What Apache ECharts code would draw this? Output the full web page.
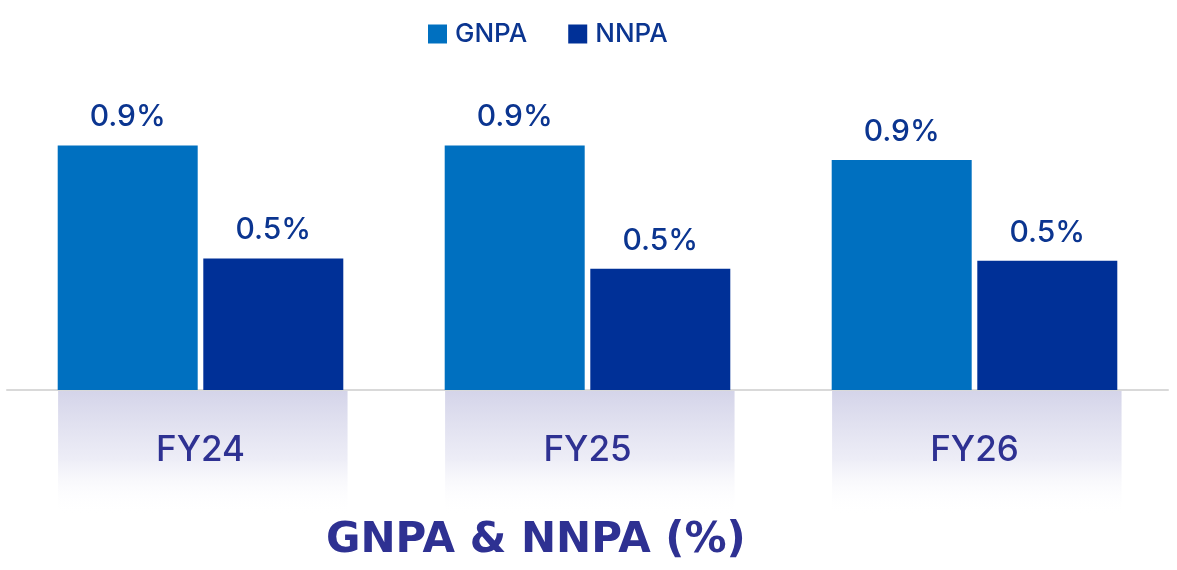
<!DOCTYPE html>
<html>
<head>
<meta charset="utf-8">
<script src="https://cdn.jsdelivr.net/npm/echarts@6/dist/echarts.min.js"></script>
<style>
  html, body { margin: 0; padding: 0; background: #ffffff; }
  #chart { width: 1177px; height: 570px; }
</style>
</head>
<body>
<div id="chart"></div>
<script>
// Fiscal years on the category axis
const categories = ['FY24', 'FY25', 'FY26'];
// Gross and net non-performing assets, % of advances
const gnpa = [0.92, 0.92, 0.865];
const nnpa = [0.495, 0.456, 0.486];
const seriesNames = ['GNPA', 'NNPA'];
const chartTitle = 'GNPA & NNPA (%)';

const chart = echarts.init(document.getElementById('chart'), null, { renderer: 'canvas' });
const FONT = 'Inter, "Noto Sans", sans-serif';

const valueLabel = {
  show: true,
  position: 'top',
  distance: 13,
  color: '#0b3590',
  fontFamily: FONT,
  fontWeight: 500,
  fontSize: 30,
  formatter: p => p.value.toFixed(1) + '%'
};

// Soft reflection band under each pair of bars
function renderReflection(params, api) {
  const c = api.coord([api.value(0), 0]);
  const band = api.size([1, 0])[0];
  const x0 = c[0] - band * 0.368;
  const x1 = c[0] + band * 0.38;
  return {
    type: 'rect',
    shape: { x: x0, y: c[1] + 1, width: x1 - x0, height: 124 },
    style: {
      fill: {
        type: 'linear', x: 0, y: 0, x2: 0, y2: 1,
        colorStops: [
          { offset: 0, color: 'rgba(210,210,232,0.95)' },
          { offset: 0.55, color: 'rgba(234,234,245,0.85)' },
          { offset: 1, color: 'rgba(255,255,255,0)' }
        ]
      }
    },
    silent: true
  };
}

chart.setOption({
  animation: false,
  backgroundColor: '#ffffff',
  title: {
    text: chartTitle,
    left: 326,
    top: 520,
    padding: 0,
    textStyle: { color: '#2e3192', fontFamily: '"DejaVu Sans", sans-serif', fontWeight: 'bold', fontSize: 42 }
  },
  legend: {
    data: seriesNames,
    left: 428,
    top: 21,
    padding: 0,
    itemWidth: 19,
    itemHeight: 19,
    itemGap: 41,
    icon: 'rect',
    textStyle: { color: '#0b3590', fontFamily: FONT, fontWeight: 500, fontSize: 26, padding: [0, 0, 0, 3] }
  },
  grid: { left: 7, right: 9, top: 71, bottom: 180, containLabel: false },
  xAxis: {
    type: 'category',
    data: categories,
    z: 1,
    axisLine: { lineStyle: { color: '#d9d9d9', width: 2 } },
    axisTick: { show: false },
    axisLabel: { color: '#2e3192', fontFamily: FONT, fontWeight: 500, fontSize: 35, margin: 43 }
  },
  yAxis: {
    type: 'value',
    min: 0,
    max: 1.2,
    show: false,
    splitLine: { show: false }
  },
  series: [
    {
      type: 'custom',
      renderItem: renderReflection,
      data: categories.map((name, i) => [i, 0]),
      encode: { x: 0, y: 1 },
      clip: false,
      z: 0,
      silent: true
    },
    {
      name: seriesNames[0],
      type: 'bar',
      data: gnpa,
      barWidth: 140,
      barGap: '4%',
      itemStyle: { color: '#0070c0' },
      label: valueLabel,
      z: 2
    },
    {
      name: seriesNames[1],
      type: 'bar',
      data: nnpa,
      barWidth: 140,
      barGap: '4%',
      itemStyle: { color: '#003097' },
      label: valueLabel,
      z: 2
    }
  ]
});
</script>
</body>
</html>
